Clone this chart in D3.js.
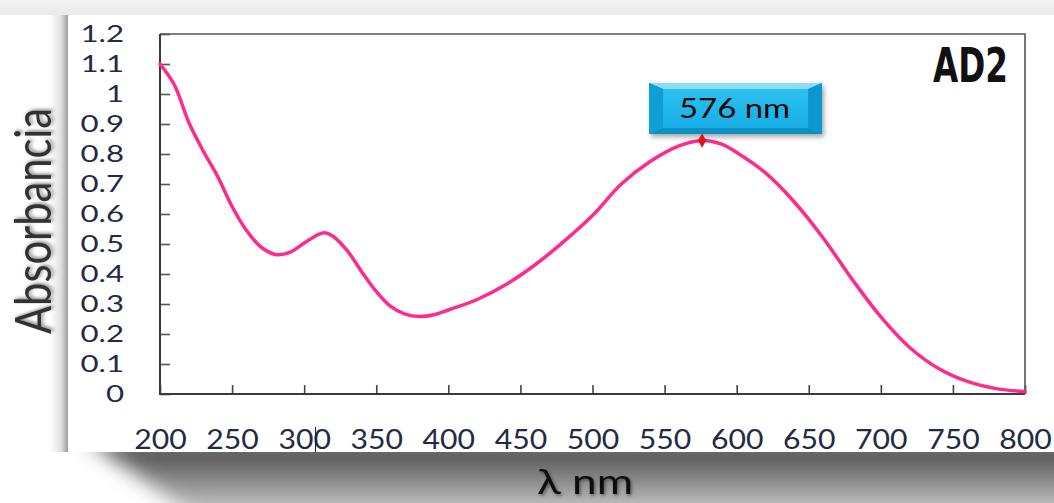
<!DOCTYPE html>
<html>
<head>
<meta charset="utf-8">
<script src="https://cdn.jsdelivr.net/npm/d3@7"></script>
<style>
  html, body { margin: 0; padding: 0; background: #ffffff; }
  svg { display: block; }
</style>
</head>
<body>
<svg id="chart" width="1054" height="503"></svg>
<script>
// UV-Vis absorption spectrum of sample AD2
const wavelengths = [200, 210, 220, 230, 240, 250, 260, 270, 280, 290, 300, 310, 315, 320, 330, 340, 350, 360, 370, 380, 390, 400, 420, 440, 460, 480, 500, 520, 540, 560, 576, 590, 600, 620, 640, 660, 680, 700, 720, 740, 760, 780, 800];
const absorbance  = [1.10, 1.03, 0.905, 0.81, 0.725, 0.625, 0.545, 0.49, 0.465, 0.472, 0.503, 0.532, 0.537, 0.526, 0.477, 0.407, 0.342, 0.292, 0.266, 0.258, 0.264, 0.28, 0.315, 0.365, 0.43, 0.508, 0.595, 0.70, 0.775, 0.827, 0.845, 0.832, 0.805, 0.737, 0.64, 0.52, 0.383, 0.257, 0.155, 0.085, 0.042, 0.018, 0.008];

const xTicks = [200, 250, 300, 350, 400, 450, 500, 550, 600, 650, 700, 750, 800];
const yTicks = [0, 0.1, 0.2, 0.3, 0.4, 0.5, 0.6, 0.7, 0.8, 0.9, 1, 1.1, 1.2];

const peakWavelength = 576;
const peakAbsorbance = 0.845;
const peakLabel = "576 nm";
const sampleName = "AD2";
const xTitle = "λ nm";
const yTitle = "Absorbancia";

const spectrum = wavelengths.map((w, i) => ({ w, a: absorbance[i] }));

const FONT = "Lato, 'Open Sans', sans-serif";

const svg = d3.select("#chart");
const defs = svg.append("defs");

// widen a text element horizontally by factor k
function stretch(sel, k) {
  sel.each(function () {
    const w = this.getComputedTextLength();
    d3.select(this).attr("textLength", w * k).attr("lengthAdjust", "spacingAndGlyphs");
  });
}

// ---------- page backdrop and card ----------
const topGrad = defs.append("linearGradient").attr("id", "topGrad").attr("x1", 0).attr("y1", 0).attr("x2", 0).attr("y2", 1);
topGrad.append("stop").attr("offset", 0).attr("stop-color", "#f3f3f3");
topGrad.append("stop").attr("offset", 1).attr("stop-color", "#e9e9e9");
svg.append("rect").attr("x", 0).attr("y", 0).attr("width", 1054).attr("height", 15).attr("fill", "url(#topGrad)");

const leftGrad = defs.append("linearGradient").attr("id", "leftGrad").attr("x1", 0).attr("y1", 0).attr("x2", 1).attr("y2", 0);
leftGrad.append("stop").attr("offset", 0).attr("stop-color", "#000").attr("stop-opacity", 0);
leftGrad.append("stop").attr("offset", 0.6).attr("stop-color", "#000").attr("stop-opacity", 0.12);
leftGrad.append("stop").attr("offset", 1).attr("stop-color", "#000").attr("stop-opacity", 0.38);
svg.append("rect").attr("x", 50).attr("y", 15).attr("width", 18).attr("height", 437).attr("fill", "url(#leftGrad)");

// shadow under the card
const botGrad = defs.append("linearGradient").attr("id", "botGrad").attr("x1", 0).attr("y1", 0).attr("x2", 0).attr("y2", 1);
botGrad.append("stop").attr("offset", 0).attr("stop-color", "#383838");
botGrad.append("stop").attr("offset", 0.35).attr("stop-color", "#707070");
botGrad.append("stop").attr("offset", 1).attr("stop-color", "#d8d8d8");
defs.append("filter").attr("id", "softBlur").attr("x", "-20%").attr("y", "-50%").attr("width", "140%").attr("height", "200%")
  .append("feGaussianBlur").attr("stdDeviation", 10);
defs.append("clipPath").attr("id", "belowCard").append("rect").attr("x", 0).attr("y", 452).attr("width", 1054).attr("height", 60);
svg.append("g").attr("clip-path", "url(#belowCard)")
  .append("path")
  .attr("d", "M88,440 L1100,440 L1100,520 L200,520 Z")
  .attr("fill", "url(#botGrad)")
  .attr("filter", "url(#softBlur)");

svg.append("rect").attr("x", 68).attr("y", 15).attr("width", 986).attr("height", 437).attr("fill", "#ffffff");

// ---------- scales ----------
const x = d3.scaleLinear().domain([200, 800]).range([160, 1025]);
const y = d3.scaleLinear().domain([0, 1.2]).range([394, 34]);

// ---------- axes ----------
const yAxis = svg.append("g")
  .attr("transform", `translate(${x(200)},0)`)
  .call(d3.axisLeft(y).tickValues(yTicks).tickSizeInner(-10).tickSizeOuter(0).tickPadding(36).tickFormat(d => String(d)));
yAxis.select(".domain").remove();
yAxis.selectAll(".tick line").attr("stroke", "#555").attr("stroke-width", 1.6);
yAxis.selectAll(".tick text")
  .attr("font-family", FONT).attr("font-size", 24).attr("fill", "#232b44");
stretch(yAxis.selectAll(".tick text"), 1.3);

const xAxis = svg.append("g")
  .attr("transform", `translate(0,${y(0)})`)
  .call(d3.axisBottom(x).tickValues(xTicks).tickSizeInner(-9).tickSizeOuter(0).tickPadding(37));
xAxis.select(".domain").remove();
xAxis.selectAll(".tick line").attr("stroke", "#444").attr("stroke-width", 1.6);
xAxis.selectAll(".tick text")
  .attr("font-family", FONT).attr("font-size", 26).attr("fill", "#232b44");
stretch(xAxis.selectAll(".tick text"), 1.16);

// plot frame
svg.append("path")
  .attr("d", `M${x(200)},${y(1.2)} H${x(800)} V${y(0)}`)
  .attr("fill", "none").attr("stroke", "#555").attr("stroke-width", 1.6);
svg.append("path")
  .attr("d", `M${x(200)},${y(1.2)} V${y(0)} H${x(800)}`)
  .attr("fill", "none").attr("stroke", "#3a3a3a").attr("stroke-width", 2);

// small cursor mark across the "300" label
svg.append("line")
  .attr("x1", 315.5).attr("x2", 315.5).attr("y1", 427).attr("y2", 452)
  .attr("stroke", "#1c2540").attr("stroke-width", 1);

// ---------- spectrum ----------
const line = d3.line().x(d => x(d.w)).y(d => y(d.a)).curve(d3.curveCatmullRom.alpha(0.5));
svg.append("path")
  .datum(spectrum)
  .attr("d", line)
  .attr("fill", "none")
  .attr("stroke", "#ff2a8c")
  .attr("stroke-width", 3.5)
  .attr("stroke-linejoin", "round")
  .attr("stroke-linecap", "round");

// ---------- peak callout ----------
const px = x(peakWavelength), py = y(peakAbsorbance);
const bx = px - 53, by = py - 57.5, bw = 173, bh = 51;
const sv = 14, st = 6;   // bevel widths

const shadow = defs.append("filter").attr("id", "boxShadow").attr("x", "-10%").attr("y", "-20%").attr("width", "125%").attr("height", "160%");
shadow.append("feDropShadow").attr("dx", 2).attr("dy", 3).attr("stdDeviation", 2.5).attr("flood-color", "#000").attr("flood-opacity", 0.35);

const faceGrad = defs.append("linearGradient").attr("id", "faceGrad").attr("x1", 0).attr("y1", 0).attr("x2", 0).attr("y2", 1);
faceGrad.append("stop").attr("offset", 0).attr("stop-color", "#2cc0f0");
faceGrad.append("stop").attr("offset", 1).attr("stop-color", "#18aee6");

const callout = svg.append("g");
callout.append("rect").attr("x", bx).attr("y", by).attr("width", bw).attr("height", bh)
  .attr("fill", "#17a8df").attr("filter", "url(#boxShadow)");
// top bevel
callout.append("polygon")
  .attr("points", [[bx, by], [bx + bw, by], [bx + bw - sv, by + st], [bx + sv, by + st]].join(" "))
  .attr("fill", "#8fdcf8");
// bottom bevel
callout.append("polygon")
  .attr("points", [[bx, by + bh], [bx + bw, by + bh], [bx + bw - sv, by + bh - st], [bx + sv, by + bh - st]].join(" "))
  .attr("fill", "#0b8fc4");
// left bevel
callout.append("polygon")
  .attr("points", [[bx, by], [bx + sv, by + st], [bx + sv, by + bh - st], [bx, by + bh]].join(" "))
  .attr("fill", "#0f9fd6");
// right bevel
callout.append("polygon")
  .attr("points", [[bx + bw, by], [bx + bw - sv, by + st], [bx + bw - sv, by + bh - st], [bx + bw, by + bh]].join(" "))
  .attr("fill", "#0c97cf");
callout.append("rect").attr("x", bx + sv).attr("y", by + st).attr("width", bw - 2 * sv).attr("height", bh - 2 * st)
  .attr("fill", "url(#faceGrad)");
const calloutText = callout.append("text")
  .attr("x", bx + bw / 2 - 1).attr("y", by + bh / 2 + 9)
  .attr("text-anchor", "middle")
  .attr("font-family", FONT).attr("font-size", 27)
  .attr("fill", "#0a0a0a")
  .text(peakLabel);
stretch(calloutText, 1.22);

// peak marker
svg.append("path")
  .attr("d", d3.symbol().type(d3.symbolDiamond).size(60))
  .attr("transform", `translate(${px},${py})`)
  .attr("fill", "#e0141c");

// ---------- titles ----------
const textShadow = defs.append("filter").attr("id", "textShadow").attr("x", "-20%").attr("y", "-20%").attr("width", "140%").attr("height", "140%");
textShadow.append("feDropShadow").attr("dx", 1.5).attr("dy", 1.5).attr("stdDeviation", 1.8).attr("flood-color", "#000").attr("flood-opacity", 0.45);

svg.append("text")
  .attr("transform", "translate(51,221) scale(1.3,1) rotate(-90)")
  .attr("text-anchor", "middle")
  .attr("font-family", FONT).attr("font-size", 38)
  .attr("fill", "#333333")
  .attr("filter", "url(#textShadow)")
  .attr("textLength", 226).attr("lengthAdjust", "spacingAndGlyphs")
  .text(yTitle);

const xt = svg.append("text")
  .attr("x", 585).attr("y", 494)
  .attr("text-anchor", "middle")
  .attr("font-family", FONT).attr("font-size", 34)
  .attr("fill", "#111111")
  .attr("filter", "url(#textShadow)")
  .text(xTitle);
xt.attr("textLength", 96).attr("lengthAdjust", "spacingAndGlyphs");

const sn = svg.append("text")
  .attr("x", 1008).attr("y", 82)
  .attr("text-anchor", "end")
  .attr("font-family", "'DejaVu Sans Condensed', 'DejaVu Sans', sans-serif")
  .attr("font-weight", "bold").attr("font-size", 48)
  .attr("fill", "#111111")
  .text(sampleName);
sn.attr("textLength", 75).attr("lengthAdjust", "spacingAndGlyphs");
</script>
</body>
</html>
